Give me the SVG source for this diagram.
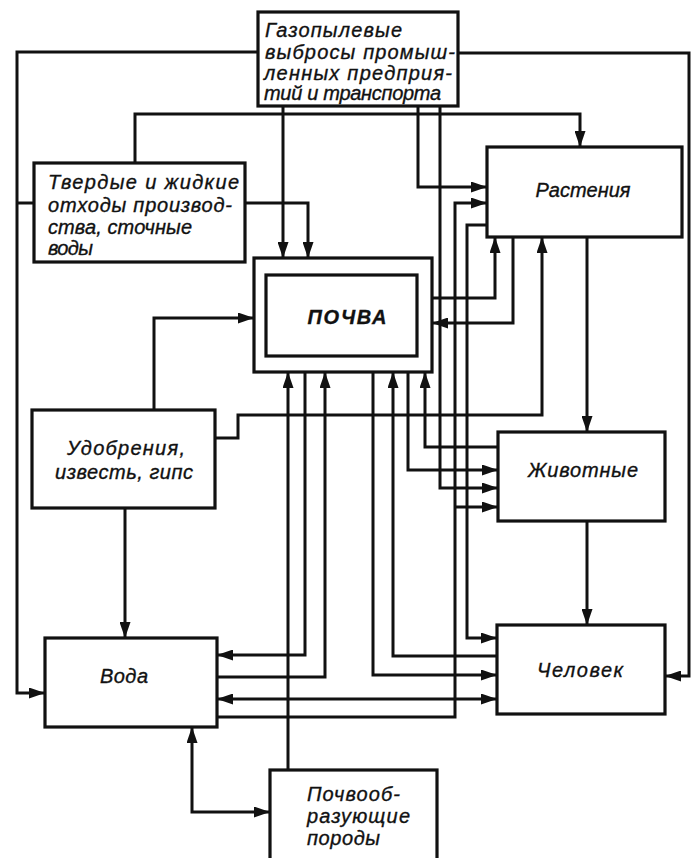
<svg xmlns="http://www.w3.org/2000/svg" width="694" height="858" viewBox="0 0 694 858">
<style>
.box{fill:#fff;stroke:#111;stroke-width:3.2}
.t{font-family:"Liberation Sans",Arial,sans-serif;font-style:italic;font-size:20px;fill:#111;stroke:#111;stroke-width:0.35}
.c{stroke:#111;stroke-width:3;fill:none}
.c path{marker-end:url(#a)}
</style>
<defs>
<marker id="a" markerUnits="userSpaceOnUse" markerWidth="16" markerHeight="11" refX="16" refY="5.5" orient="auto-start-reverse">
<path d="M0,0 L16,5.5 L0,11 z" fill="#111"/>
</marker>
</defs>
<rect width="694" height="858" fill="#fff"/>
<g id="connectors" class="c">
<path d="M258,52 H17 V693 H45"/>
<path d="M34,203 H17" style="marker-end:none"/>
<path d="M458,53 H689 V676 H665"/>
<path d="M135,163 V114 H580 V147"/>
<path d="M283,106 V258"/>
<path d="M245,203 H308 V258"/>
<path d="M418,106 V187 H487"/>
<path d="M440,106 V488 H498"/>
<path d="M217,717 H455 V203 H487"/>
<path d="M455,507 H498"/>
<path d="M487,225 H467 V638 H497"/>
<path d="M432,298 H495 V237"/>
<path d="M513,237 V323 H432"/>
<path d="M215,438 H238 V415 H542 V237"/>
<path d="M154,410 V318 H254"/>
<path d="M125,508 V638"/>
<path d="M587,237 V432"/>
<path d="M587,521 V625"/>
<path d="M288,770 V372"/>
<path d="M305,372 V655 H217"/>
<path d="M217,677 H325 V372"/>
<path d="M373,372 V675 H497"/>
<path d="M497,656 H393 V372"/>
<path d="M408,372 V470 H498"/>
<path d="M498,447 H425 V372"/>
<path d="M217,699 H497" style="marker-start:url(#a)"/>
<path d="M192,727 V812 H270" style="marker-start:url(#a)"/>
</g>
<g id="gas">
<rect class="box" x="258" y="12" width="200" height="94"/>
<text class="t" x="265" y="37" textLength="137" lengthAdjust="spacing">Газопылевые</text>
<text class="t" x="265" y="59" textLength="190" lengthAdjust="spacing">выбросы промыш-</text>
<text class="t" x="264" y="80" textLength="188" lengthAdjust="spacing">ленных предприя-</text>
<text class="t" x="264" y="100" textLength="177" lengthAdjust="spacing">тий и транспорта</text>
</g>
<g id="tverdye">
<rect class="box" x="34" y="163" width="211" height="99"/>
<text class="t" x="48" y="189" textLength="191" lengthAdjust="spacing">Твердые и жидкие</text>
<text class="t" x="48" y="212" textLength="184" lengthAdjust="spacing">отходы производ-</text>
<text class="t" x="48" y="234" textLength="144" lengthAdjust="spacing">ства, сточные</text>
<text class="t" x="48" y="255" textLength="45" lengthAdjust="spacing">воды</text>
</g>
<g id="pochva">
<rect class="box" x="254" y="258" width="178" height="114"/>
<rect class="box" x="266" y="275" width="151" height="81"/>
<text class="t" x="347" y="324" text-anchor="middle" font-weight="bold" font-size="21" textLength="79" lengthAdjust="spacing">ПОЧВА</text>
</g>
<g id="rasteniya">
<rect class="box" x="487" y="147" width="195" height="90"/>
<text class="t" x="583" y="197" text-anchor="middle" textLength="95" lengthAdjust="spacing">Растения</text>
</g>
<g id="udobreniya">
<rect class="box" x="32" y="410" width="183" height="98"/>
<text class="t" x="126" y="455" text-anchor="middle" textLength="118" lengthAdjust="spacing">Удобрения,</text>
<text class="t" x="124" y="479" text-anchor="middle" textLength="138" lengthAdjust="spacing">известь, гипс</text>
</g>
<g id="zhivotnye">
<rect class="box" x="498" y="432" width="167" height="89"/>
<text class="t" x="583" y="477" text-anchor="middle" textLength="110" lengthAdjust="spacing">Животные</text>
</g>
<g id="voda">
<rect class="box" x="45" y="638" width="172" height="89"/>
<text class="t" x="124" y="683" text-anchor="middle" textLength="48" lengthAdjust="spacing">Вода</text>
</g>
<g id="chelovek">
<rect class="box" x="497" y="625" width="168" height="89"/>
<text class="t" x="580" y="677" text-anchor="middle" textLength="86" lengthAdjust="spacing">Человек</text>
</g>
<g id="porody">
<rect class="box" x="270" y="770" width="167" height="100"/>
<text class="t" x="307" y="801" textLength="93" lengthAdjust="spacing">Почвооб-</text>
<text class="t" x="307" y="823" textLength="103" lengthAdjust="spacing">разующие</text>
<text class="t" x="307" y="845" textLength="73" lengthAdjust="spacing">породы</text>
</g>
</svg>
